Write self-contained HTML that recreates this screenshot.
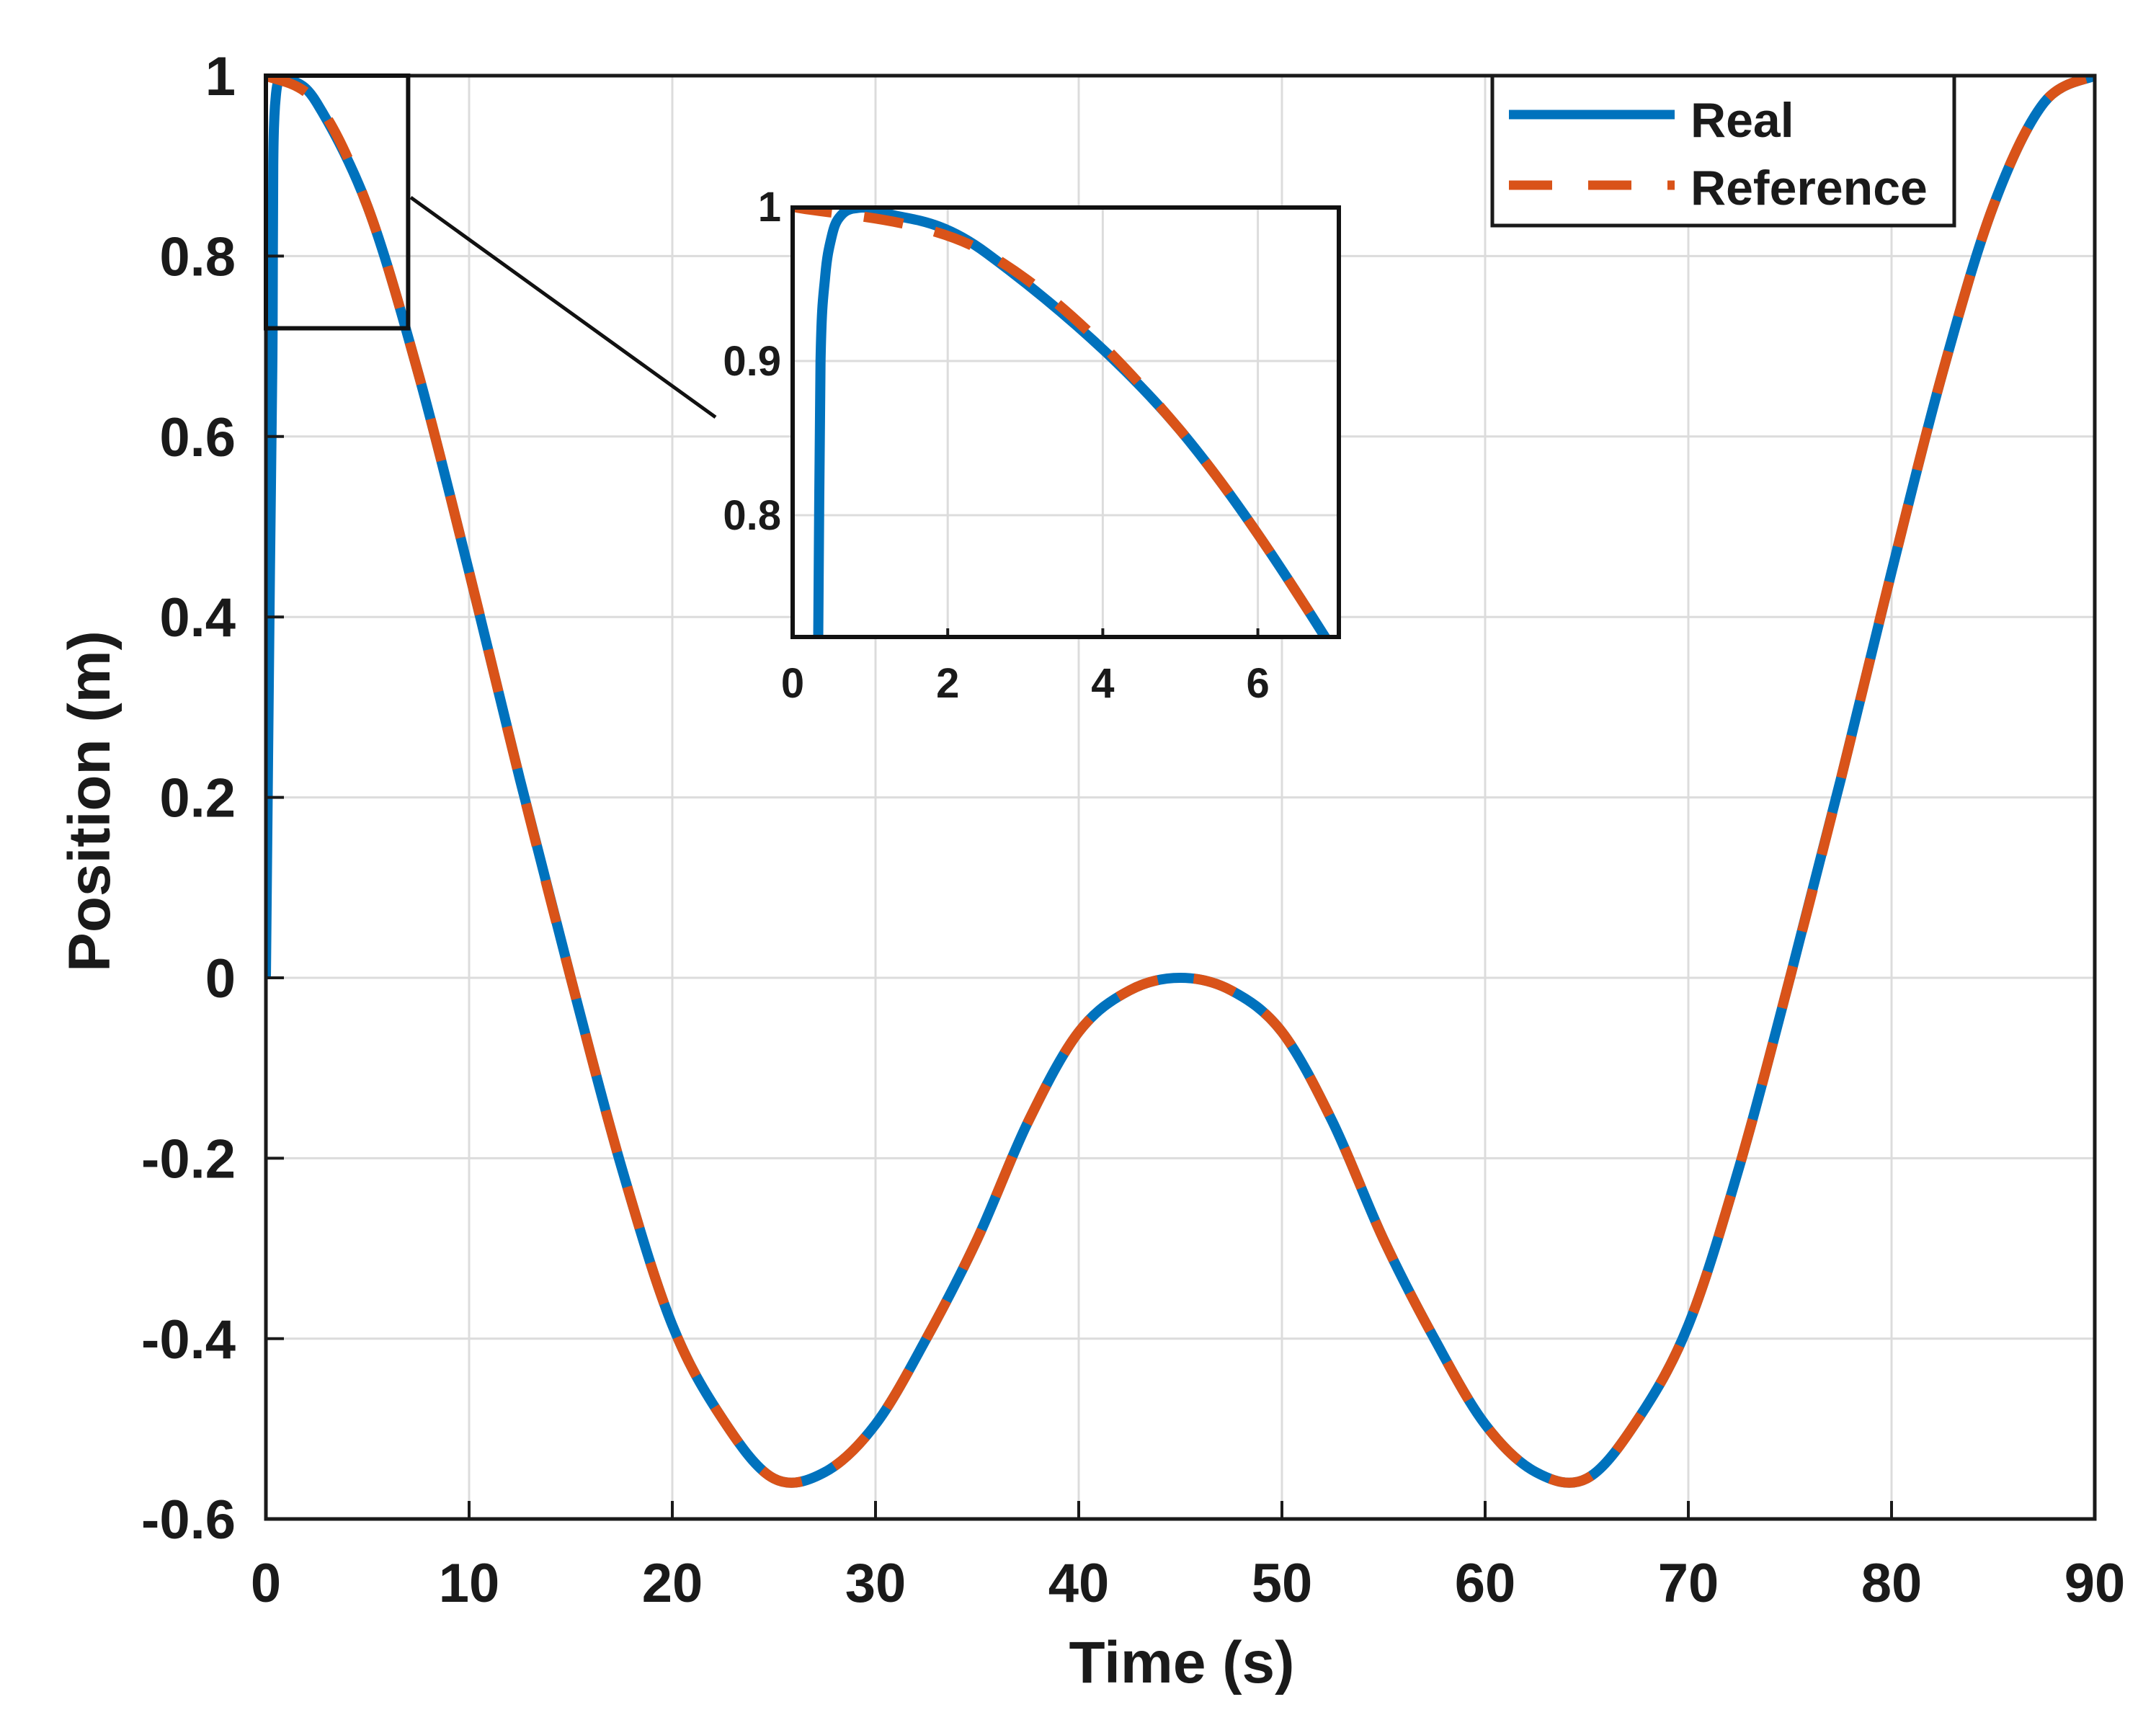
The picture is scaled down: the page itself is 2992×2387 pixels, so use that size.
<!DOCTYPE html>
<html><head><meta charset="utf-8"><style>
html,body{margin:0;padding:0;background:#fff;overflow:hidden;width:2992px;height:2387px;position:relative;}
svg{display:block;position:absolute;left:0;top:0;}
text{font-family:"Liberation Sans",Arial,sans-serif;font-weight:bold;fill:#1a1a1a;}
</style></head><body>
<svg id="chart" width="2992" height="2387" viewBox="0 0 2992 2387" xmlns="http://www.w3.org/2000/svg">
<defs>
<clipPath id="mainClip"><rect x="369" y="105" width="2538" height="2003"/></clipPath>
<clipPath id="insetClip"><rect x="1100" y="288" width="758" height="596"/></clipPath>
</defs>
<rect x="0" y="0" width="2992" height="2387" fill="#fff"/>
<g id="main-grid"></g>
<g id="main-series" clip-path="url(#mainClip)"></g>
<g id="main-axes"></g>
<text x="1640" y="2335" font-size="82" text-anchor="middle">Time (s)</text>
<text x="0" y="0" font-size="82" text-anchor="middle" transform="translate(152,1112) rotate(-90)">Position (m)</text>
<g id="zoom-box"></g>
<g id="inset"></g>
<g>
<rect x="2071" y="105" width="641" height="208" fill="#fff" stroke="#1a1a1a" stroke-width="5"/>
<line x1="2094" y1="159" x2="2324" y2="159" stroke="#0072BD" stroke-width="13"/>
<text x="2346" y="190" font-size="68">Real</text>
<line x1="2094" y1="257" x2="2324" y2="257" stroke="#D95319" stroke-width="13" stroke-dasharray="60,50"/>
<text x="2346" y="284" font-size="68">Reference</text>
</g>
</svg>
<script>
// Reference trajectory
const refTime = [0,2.5,5,7.5,10,12.5,15,17.5,20,22.5,25,27.5,30,32.5,35,37.5,40,42.5,45,47.5,50,52.5,55,57.5,60,62.5,65,67.5,70,72.5,75,77.5,80,82.5,85,87.5,90];
const refPos  = [1,0.97,0.855,0.67,0.45,0.22,0,-0.21,-0.385,-0.49,-0.555,-0.548,-0.495,-0.40,-0.29,-0.16,-0.06,-0.014,0,-0.014,-0.06,-0.16,-0.29,-0.40,-0.495,-0.548,-0.555,-0.49,-0.385,-0.21,0,0.22,0.45,0.67,0.855,0.97,1];
// Real trajectory (initial transient then tracking)
const realTime = [0,0.2,0.3,0.33,0.36,0.42,0.5,0.6,0.8,1.2,2.5,5,7.5,10,12.5,15,17.5,20,22.5,25,27.5,30,32.5,35,37.5,40,42.5,45,47.5,50,52.5,55,57.5,60,62.5,65,67.5,70,72.5,75,77.5,80,82.5,85,87.5,90];
const realPos  = [0,0.45,0.65,0.72,0.9,0.955,0.98,0.993,0.999,0.996,0.97,0.855,0.67,0.45,0.22,0,-0.21,-0.385,-0.49,-0.555,-0.548,-0.495,-0.40,-0.29,-0.16,-0.06,-0.014,0,-0.014,-0.06,-0.16,-0.29,-0.40,-0.495,-0.548,-0.555,-0.49,-0.385,-0.21,0,0.22,0.45,0.67,0.855,0.97,1];
const xTicks = [0,10,20,30,40,50,60,70,80,90];
const yTicks = [-0.6,-0.4,-0.2,0,0.2,0.4,0.6,0.8,1];
const yTickLabels = ["-0.6","-0.4","-0.2","0","0.2","0.4","0.6","0.8","1"];
const insetXTicks = [0,2,4,6];
const insetYTicks = [0.8,0.9,1];
const insetYTickLabels = ["0.8","0.9","1"];

const NS="http://www.w3.org/2000/svg";
const X=t=>369+t*28.2;
const Y=v=>105+(1-v)*1252;
const IX=t=>1100+t*107.6;
const IY=v=>287+(1-v)*2140;

function mk(tag,attrs,parent){const e=document.createElementNS(NS,tag);for(const k in attrs)e.setAttribute(k,attrs[k]);parent.appendChild(e);return e;}
function pathD(ts,vs,fx,fy){
  let d="M"+fx(ts[0]).toFixed(1)+","+fy(vs[0]).toFixed(1);
  for(let i=0;i<ts.length-1;i++){
    const p0=[fx(ts[Math.max(0,i-1)]),fy(vs[Math.max(0,i-1)])];
    const p1=[fx(ts[i]),fy(vs[i])];
    const p2=[fx(ts[i+1]),fy(vs[i+1])];
    const p3=[fx(ts[Math.min(ts.length-1,i+2)]),fy(vs[Math.min(ts.length-1,i+2)])];
    const c1=[p1[0]+(p2[0]-p0[0])/6,p1[1]+(p2[1]-p0[1])/6];
    const c2=[p2[0]-(p3[0]-p1[0])/6,p2[1]-(p3[1]-p1[1])/6];
    d+=" C"+c1[0].toFixed(1)+","+c1[1].toFixed(1)+" "+c2[0].toFixed(1)+","+c2[1].toFixed(1)+" "+p2[0].toFixed(1)+","+p2[1].toFixed(1);
  }
  return d;
}

const grid=document.getElementById('main-grid');
const axes=document.getElementById('main-axes');
xTicks.forEach(t=>{
  const g=mk('line',{x1:X(t),y1:105,x2:X(t),y2:2108,stroke:'#dcdcdc','stroke-width':3},grid);
  
  
  const tk=mk('line',{x1:X(t),y1:2108,x2:X(t),y2:2083,stroke:'#1a1a1a','stroke-width':4},axes);
  
  
  const lb=mk('text',{x:X(t),y:2223,'font-size':76,'text-anchor':'middle'},axes);
  lb.textContent=String(t);
  
  
});
yTicks.forEach((v,i)=>{
  const g=mk('line',{x1:369,y1:Y(v),x2:2907,y2:Y(v),stroke:'#dcdcdc','stroke-width':3},grid);
  
  
  const tk=mk('line',{x1:369,y1:Y(v),x2:394,y2:Y(v),stroke:'#1a1a1a','stroke-width':4},axes);
  
  
  const lb=mk('text',{x:327,y:Y(v)+27,'font-size':76,'text-anchor':'end'},axes);
  lb.textContent=yTickLabels[i];
  
  
});
const frame=mk('rect',{x:369,y:105,width:2538,height:2003,fill:'none',stroke:'#1a1a1a','stroke-width':5},axes);



const ms=document.getElementById('main-series');
const r=mk('path',{d:pathD(realTime,realPos,X,Y),fill:'none',stroke:'#0072BD','stroke-width':14,'stroke-linejoin':'round'},ms);


const f=mk('path',{d:pathD(refTime,refPos,X,Y),fill:'none',stroke:'#D95319','stroke-width':14,'stroke-dasharray':'60,50'},ms);



const zb=document.getElementById('zoom-box');
const box=mk('rect',{x:X(0),y:Y(1),width:X(7)-X(0),height:Y(0.72)-Y(1),fill:'none',stroke:'#111','stroke-width':6},zb);


const con=mk('line',{x1:570,y1:274,x2:993,y2:579,stroke:'#111','stroke-width':5},zb);



const ins=document.getElementById('inset');
const bg=mk('rect',{x:1100,y:288,width:758,height:596,fill:'#fff'},ins);


insetXTicks.forEach(t=>{
  if(t>0){
    const g=mk('line',{x1:IX(t),y1:288,x2:IX(t),y2:884,stroke:'#dcdcdc','stroke-width':3},ins);
    
    
    const tk=mk('line',{x1:IX(t),y1:884,x2:IX(t),y2:872,stroke:'#1a1a1a','stroke-width':4},ins);
    
    
  }
  const lb=mk('text',{x:IX(t),y:968,'font-size':58,'text-anchor':'middle'},ins);
  lb.textContent=String(t);
  
  
});
insetYTicks.forEach((v,i)=>{
  if(v<1){
    const g=mk('line',{x1:1100,y1:IY(v),x2:1858,y2:IY(v),stroke:'#dcdcdc','stroke-width':3},ins);
    
    
  }
  const lb=mk('text',{x:1084,y:IY(v)+20,'font-size':58,'text-anchor':'end'},ins);
  lb.textContent=insetYTickLabels[i];
  
  
});
const ig=mk('g',{'clip-path':'url(#insetClip)'},ins);
const ir=mk('path',{d:pathD(realTime,realPos,IX,IY),fill:'none',stroke:'#0072BD','stroke-width':14},ig);


const iref=mk('path',{d:pathD(refTime,refPos,IX,IY),fill:'none',stroke:'#D95319','stroke-width':14,'stroke-dasharray':'55,45'},ig);


const iframe=mk('rect',{x:1100,y:288,width:758,height:596,fill:'none',stroke:'#111','stroke-width':6},ins);


</script>
</body></html>
